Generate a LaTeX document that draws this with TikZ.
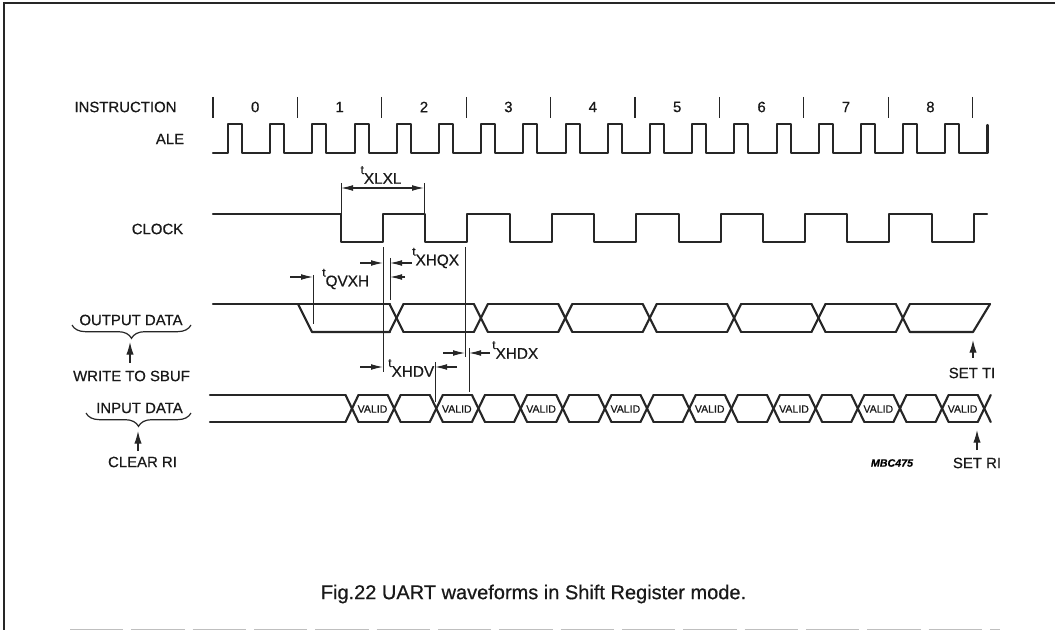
\documentclass[tikz,border=0pt]{standalone}
\usepackage{fontspec}
\setmainfont{Liberation Sans}[RawFeature={embolden=0.6}]
\usetikzlibrary{arrows.meta, decorations.pathreplacing}

\newcommand{\tsub}[1]{\raisebox{0.7ex}{\small t}\raisebox{-0.5ex}{#1}}

\begin{document}
\begin{tikzpicture}[
    x=0.75pt, y=-0.75pt,
    wave/.style={line width=1.6pt, line cap=round, line join=round, black!85},
    guide/.style={line width=0.7pt, black!85},
    dimarrow/.style={-{Latex[length=9pt, width=4.4pt]}, line width=0.8pt, black!85},
    dimboth/.style={{Latex[length=9pt, width=4.4pt]}-{Latex[length=9pt, width=4.4pt]}, line width=0.8pt, black!85},
    uparrow/.style={-{Latex[length=9.5pt, width=5.5pt]}, line width=0.9pt, black!85},
    bracket/.style={decorate, decoration={brace, mirror, amplitude=10pt}, line width=0.9pt, black!85},
    lbl/.style={font=\fontsize{11.2}{13}\selectfont, inner sep=0pt, text=black!90},
    dimlbl/.style={font=\fontsize{11.5}{13}\selectfont, inner sep=0pt, text=black!90},
    valid/.style={font=\fontsize{7.9}{9}\selectfont, inner sep=0pt, text=black!90}
]
    \useasboundingbox (0, 0) rectangle (1055, 630);

    % frame
    \draw[line width=1.5pt, black!85] (4, 630) -- (4, 3) -- (1055, 3);
    \draw[line width=0.7pt, black!25, dash pattern=on 40pt off 6pt] (70, 629) -- (1000, 629);

    % signal names
    \node[lbl] (instr) at (125.5, 107) {INSTRUCTION};
    \node[lbl] (ale) at (170, 139) {ALE};
    \node[lbl] (clock) at (157.5, 229) {CLOCK};
    \node[lbl] (outdata) at (131, 320) {OUTPUT DATA};
    \node[lbl] (wsbuf) at (131.5, 376) {WRITE TO SBUF};
    \node[lbl] (indata) at (139.5, 408) {INPUT DATA};
    \node[lbl] (clearri) at (142.5, 462) {CLEAR RI};
    \node[lbl] (setti) at (972, 373) {SET TI};
    \node[lbl] (setri) at (977, 463) {SET RI};
    \node[font=\fontsize{8}{9}\selectfont\bfseries\itshape, inner sep=0pt] (mbc) at (892, 463) {MBC475};
    \node[font=\fontsize{15}{18}\selectfont, inner sep=0pt, text=black!90] (caption) at (533.5, 594) {Fig.22 UART waveforms in Shift Register mode.};

    % instruction ticks and numbers
    \foreach \k in {0,...,9}
        \draw[line width=1pt, black!85] ({213+84.4*\k}, 97) -- ({213+84.4*\k}, 118);
    \foreach \k in {0,...,8}
        \node[lbl] (num\k) at ({255.2+84.4*\k}, 107) {\k};

    % ALE
    \draw[wave] (213, 153) foreach \k in {0,...,17} {
        -- ({228+42.2*\k}, 153) -- ({228+42.2*\k}, 124)
        -- ({242+42.2*\k}, 124) -- ({242+42.2*\k}, 153)
    } -- (987.5, 153) -- (987.5, 125);

    % CLOCK
    \draw[wave] (213, 214) foreach \k in {0,...,7} {
        -- ({341+84.4*\k}, 214) -- ({341+84.4*\k}, 242)
        -- ({383+84.4*\k}, 242) -- ({383+84.4*\k}, 214)
    } -- (987, 214);

    % OUTPUT DATA
    \draw[wave] (213, 304) -- (390, 304);
    \draw[wave] (298, 304) -- (312, 332) -- (390, 332);
    \foreach \k in {0,...,6} {
        \pgfmathsetmacro{\c}{396.5+84.4*\k}
        \draw[wave] (\c-7, 304) -- (\c+7, 332);
        \draw[wave] (\c-7, 332) -- (\c+7, 304);
    }
    \foreach \k in {0,...,5} {
        \pgfmathsetmacro{\c}{396.5+84.4*\k}
        \draw[wave] (\c+7, 304) -- (\c+77.4, 304);
        \draw[wave] (\c+7, 332) -- (\c+77.4, 332);
    }
    \draw[wave] (910, 304) -- (990, 304);
    \draw[wave] (910, 332) -- (973, 332) -- (990, 304);

    % INPUT DATA
    \draw[wave] (210, 395) -- (345.5, 395);
    \draw[wave] (210, 422) -- (345.5, 422);
    \foreach \k in {0,...,15} {
        \pgfmathsetmacro{\c}{352+42.15*\k}
        \draw[wave] (\c-6.5, 395) -- (\c+6.5, 422);
        \draw[wave] (\c-6.5, 422) -- (\c+6.5, 395);
    }
    \foreach \k in {0,...,14} {
        \pgfmathsetmacro{\c}{352+42.15*\k}
        \draw[wave] (\c+6.5, 395) -- (\c+35.65, 395);
        \draw[wave] (\c+6.5, 422) -- (\c+35.65, 422);
    }
    \foreach \k in {0,...,7}
        \node[valid] (valid\k) at ({372.5+84.3*\k}, 409) {VALID};

    % timing guides
    \foreach \n/\x/\a/\b in {xlxla/341/183/214, xlxlb/424/183/214, clka/383/247/372, clkb/465/247/357,
                             xhqx/390/258/300, qvxh/313/275/324, xhdx/469/348/392, xhdv/435/362/402} {
        \coordinate (\n top) at (\x, \a);
        \coordinate (\n bot) at (\x, \b);
        \draw[guide] (\n top) -- (\n bot);
    }

    % timing labels
    \node[dimlbl] (lxlxl) at (381, 175) {\tsub{XLXL}};
    \node[dimlbl, anchor=west] (lxhqx) at (412, 258) {\tsub{XHQX}};
    \node[dimlbl, anchor=west] (lqvxh) at (322, 279) {\tsub{QVXH}};
    \node[dimlbl, anchor=west] (lxhdx) at (492, 350) {\tsub{XHDX}};
    \node[dimlbl, anchor=west] (lxhdv) at (388, 368) {\tsub{XHDV}};

    % timing arrows
    \coordinate (a1) at (360, 263);
    \coordinate (a2) at (412, 263);
    \coordinate (a3) at (290, 277);
    \coordinate (a4) at (405, 277);
    \coordinate (a5) at (443, 353);
    \coordinate (a6) at (490, 353);
    \coordinate (a7) at (360, 367);
    \coordinate (a8) at (457, 367);
    \draw[dimboth] (xlxlatop |- 0,188) -- (xlxlbtop |- 0,188);
    \draw[dimarrow] (a1) -- (clkatop |- a1);
    \draw[dimarrow] (a2) -- (xhqxtop |- a2);
    \draw[dimarrow] (a3) -- (qvxhtop |- a3);
    \draw[dimarrow] (a4) -- (xhqxtop |- a4);
    \draw[dimarrow] (a5) -- (clkbtop |- a5);
    \draw[dimarrow] (a6) -- (xhdxtop |- a6);
    \draw[dimarrow] (a7) -- (clkatop |- a7);
    \draw[dimarrow] (a8) -- (xhdvtop |- a8);

    % braces and event arrows
    \draw[bracket] (72, 325) -- (191, 325);
    \draw[bracket] (86, 413) -- (191, 413);
    \coordinate (otail) at (130, 363);
    \coordinate (ohead) at (130, 342);
    \coordinate (itail) at (138, 451);
    \coordinate (ihead) at (138, 431);
    \coordinate (ttail) at (973, 358);
    \coordinate (thead) at (973, 340);
    \coordinate (rtail) at (977, 450);
    \coordinate (rhead) at (977, 430);
    \draw[uparrow] (otail) -- (ohead);
    \draw[uparrow] (itail) -- (ihead);
    \draw[uparrow] (ttail) -- (thead);
    \draw[uparrow] (rtail) -- (rhead);
\end{tikzpicture}
\end{document}
